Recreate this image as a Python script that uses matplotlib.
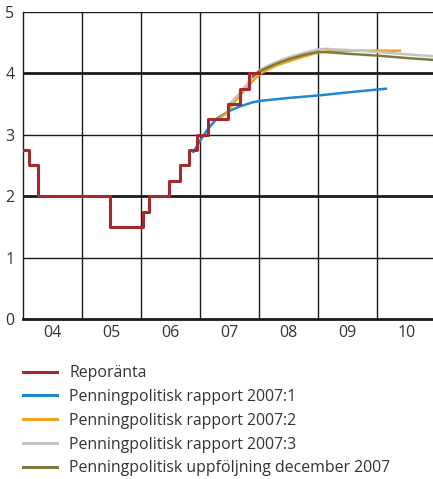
import matplotlib
matplotlib.use("Agg")
import matplotlib.pyplot as plt
from matplotlib.lines import Line2D

# Repo rate (step changes, decimal years)
repo_x = [2004.0, 2004.10, 2004.25, 2005.47, 2006.04, 2006.14, 2006.47, 2006.66, 2006.82, 2006.95,
          2007.13, 2007.47, 2007.68, 2007.83, 2008.0]
repo_y = [2.75, 2.50, 2.00, 1.50, 1.75, 2.00, 2.25, 2.50, 2.75, 3.00,
          3.25, 3.50, 3.75, 4.00, 4.00]

ppr1_x = [2006.89, 2007.0, 2007.14, 2007.28, 2007.5, 2007.67, 2007.9, 2008.0, 2008.5, 2009.0, 2009.5, 2010.15]
ppr1_y = [2.72, 2.90, 3.10, 3.26, 3.39, 3.46, 3.53, 3.55, 3.60, 3.64, 3.69, 3.75]

ppr2_x = [2007.3, 2007.45, 2007.6, 2007.75, 2007.9, 2008.03, 2008.13, 2008.3, 2008.52, 2008.75,
          2009.0, 2009.25, 2009.5, 2010.0, 2010.39]
ppr2_y = [3.25, 3.35, 3.55, 3.72, 3.88, 4.00, 4.05, 4.13, 4.20, 4.27,
          4.34, 4.37, 4.37, 4.37, 4.37]

ppr3_x = [2007.5, 2007.65, 2007.76, 2007.9, 2008.0, 2008.25, 2008.5, 2008.75, 2009.0, 2009.12,
          2009.5, 2010.0, 2010.5, 2010.95]
ppr3_y = [3.50, 3.65, 3.78, 3.95, 4.05, 4.17, 4.26, 4.33, 4.39, 4.40,
          4.38, 4.35, 4.31, 4.28]

ppu_x = [2007.9, 2008.0, 2008.25, 2008.5, 2008.75, 2009.0, 2009.25, 2009.5, 2010.0, 2010.5, 2010.95]
ppu_y = [3.95, 4.03, 4.14, 4.23, 4.30, 4.35, 4.34, 4.32, 4.29, 4.25, 4.22]

year_labels = ["04", "05", "06", "07", "08", "09", "10"]
labels = ["Reporänta", "Penningpolitisk rapport 2007:1", "Penningpolitisk rapport 2007:2",
          "Penningpolitisk rapport 2007:3", "Penningpolitisk uppföljning december 2007"]
colors = ["#A52A30", "#1E88CF", "#F2A21E", "#C4C4C4", "#7C7B3C"]

plt.rcParams['font.family'] = ['Open Sans', 'DejaVu Sans']
fig = plt.figure(figsize=(4.33, 4.79), dpi=100)
ax = fig.add_axes([0.053, 0.334, 0.947, 0.641])
ax.set_xlim(2004.0, 2010.95)
ax.set_ylim(0, 5)

# grid
for v in [1, 3, 5]:
    ax.axhline(v, color="#1a1a1a", lw=1.0, zorder=1)
for v in [2, 4]:
    ax.axhline(v, color="#1a1a1a", lw=2.0, zorder=1)
for yr in range(2005, 2011):
    ax.axvline(yr, color="#1a1a1a", lw=1.0, zorder=1)

ax.plot(ppr1_x, ppr1_y, color=colors[1], lw=1.8, zorder=3)
ax.plot(ppr2_x, ppr2_y, color=colors[2], lw=1.8, zorder=3)
ax.plot(ppr3_x, ppr3_y, color=colors[3], lw=1.8, zorder=3)
ax.plot(ppu_x, ppu_y, color=colors[4], lw=1.8, zorder=4)
ax.step(repo_x, repo_y, where='post', color=colors[0], lw=2.2, zorder=5)

for s in ["top", "right"]:
    ax.spines[s].set_visible(False)
ax.spines["left"].set_linewidth(1.0)
ax.spines["bottom"].set_linewidth(2.0)
ax.spines["left"].set_color("#1a1a1a")
ax.spines["bottom"].set_color("#1a1a1a")

ax.set_yticks([0, 1, 2, 3, 4, 5])
ax.set_yticklabels(["0", "1", "2", "3", "4", "5"])
ax.set_xticks([y + 0.5 for y in range(2004, 2011)])
ax.set_xticklabels(year_labels)
ax.tick_params(length=0, labelsize=11.5, colors="#333333", pad=4)
ax.tick_params(axis='y', pad=6)

handles = [Line2D([0], [0], color=c, lw=2.2) for c in colors]
fig.legend(handles, labels, loc="upper left", bbox_to_anchor=(0.054, 0.2375), frameon=False,
           fontsize=11.4, handlelength=2.15, handletextpad=0.76, labelspacing=0.49,
           borderaxespad=0, borderpad=0, labelcolor="#333333")

fig.savefig("out.png", dpi=100)
